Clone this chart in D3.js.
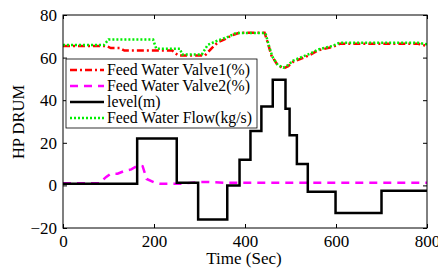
<!DOCTYPE html>
<html lang="en">
<head>
<meta charset="UTF-8">
<script src="https://cdn.jsdelivr.net/npm/d3@7"></script>
<style>
  body { margin: 0; background: #fff; }
  svg text { font-family: "Liberation Serif", "Times New Roman", serif; fill: #000; }
</style>
</head>
<body>
<div id="chart"></div>
<script>
// series as [time (s), value]
const level = [[0, 0.8], [163, 0.8], [163, 22], [250, 22], [250, 1.3], [297, 1.3], [297, -16],
  [361, -16], [361, 0], [388, 0], [388, 12], [412, 12], [412, 25.5], [436, 25.5], [436, 37],
  [461, 37], [461, 49.6], [489, 49.6], [489, 36], [498, 36], [498, 23.5], [514, 23.5], [514, 10],
  [538, 10], [538, -3], [599, -3], [599, -13], [700, -13], [700, -2.5], [800, -2.5]];
const valve2 = [[0, 1], [80, 1], [95, 4], [105, 5.5], [120, 5.5], [135, 6.8], [150, 7.5], [165, 9.4],
  [175, 9], [184, 3], [200, 1.5], [213, 0.8], [260, 0.8], [300, 1.6], [320, 1.6], [360, 1.2], [800, 1.2]];
const valve1 = [[0, 65.5], [95, 65.5], [105, 64.5], [125, 64.5], [135, 63.3], [240, 63.3], [253, 61],
  [312, 61], [325, 64], [341, 67.3], [355, 68.5], [370, 70.4], [388, 71.7], [443, 71.7], [450, 67],
  [458, 61], [470, 57], [484, 54.8], [495, 56], [505, 57.9], [531, 60.2], [545, 61.5], [560, 63.4],
  [593, 65], [608, 66.5], [780, 66.5], [800, 65.5]];
const flow = [[0, 65.9], [90, 65.9], [100, 68.5], [198, 68.5], [205, 64.2], [257, 64.2], [262, 61.4],
  [305, 61.4], [318, 66], [340, 68], [360, 69.5], [380, 71.5], [445, 71.5], [452, 66], [460, 60.5],
  [472, 56.5], [484, 55.3], [495, 56.5], [505, 58.5], [531, 60.8], [545, 62], [560, 63.8],
  [593, 65.5], [608, 67], [780, 67], [800, 66.2]];
const xTicks = [0, 200, 400, 600, 800];
const yTicks = [-20, 0, 20, 40, 60, 80];
const legendNames = ["Feed Water Valve1(%)", "Feed Water Valve2(%)", "level(m)", "Feed Water Flow(kg/s)"];

const width = 438, height = 271;
const margin = {top: 15, right: 11, bottom: 43, left: 63};
const w = width - margin.left - margin.right;
const h = height - margin.top - margin.bottom;

const svg = d3.select("#chart").append("svg")
  .attr("width", width).attr("height", height);
const g = svg.append("g").attr("transform", `translate(${margin.left},${margin.top})`);

const x = d3.scaleLinear().domain([0, 800]).range([0, w]);
const y = d3.scaleLinear().domain([-20, 80]).range([h, 0]);

const styleAxis = (sel, hideText) => {
  sel.select(".domain").remove();
  sel.selectAll(".tick line").attr("stroke", "#000").attr("stroke-width", 1);
  sel.selectAll(".tick text").style("font-size", "17px");
  if (hideText) sel.selectAll(".tick text").remove();
};

g.append("g").attr("transform", `translate(0,${h})`)
  .call(d3.axisBottom(x).tickValues(xTicks).tickSizeInner(-4).tickPadding(7))
  .call(styleAxis, false);
g.append("g")
  .call(d3.axisTop(x).tickValues(xTicks).tickSizeInner(-4))
  .call(styleAxis, true);
g.append("g")
  .call(d3.axisLeft(y).tickValues(yTicks).tickSizeInner(-4).tickPadding(6))
  .call(styleAxis, false);
g.append("g").attr("transform", `translate(${w},0)`)
  .call(d3.axisRight(y).tickValues(yTicks).tickSizeInner(-4))
  .call(styleAxis, true);

const line = d3.line().x(d => x(d[0])).y(d => y(d[1]));

const series = [
  {data: valve1, color: "#ff0000", dash: "7,3,2,3", width: 2.5},
  {data: valve2, color: "#ff00ff", dash: "8,6", width: 2.5},
  {data: level, color: "#000000", dash: null, width: 2.5},
  {data: flow, color: "#00ee00", dash: "2,2", width: 2.5}
];

g.append("defs").append("clipPath").attr("id", "clip")
  .append("rect").attr("width", w).attr("height", h);

const plot = g.append("g").attr("clip-path", "url(#clip)");
plot.selectAll("path.s")
  .data(series)
  .join("path")
  .attr("class", "s")
  .attr("d", d => line(d.data))
  .attr("fill", "none")
  .attr("stroke", d => d.color)
  .attr("stroke-width", d => d.width)
  .attr("stroke-dasharray", d => d.dash);

g.append("rect").attr("width", w).attr("height", h)
  .attr("fill", "none").attr("stroke", "#000").attr("stroke-width", 1);

// legend
const lg = svg.append("g").attr("transform", "translate(66,59)");
lg.append("rect").attr("width", 191).attr("height", 69)
  .attr("fill", "#fff").attr("stroke", "#000").attr("stroke-width", 0.8);
legendNames.forEach((name, i) => {
  const s = series[i];
  const yy = 11 + i * 16;
  lg.append("line").attr("x1", 4).attr("x2", 38).attr("y1", yy).attr("y2", yy)
    .attr("stroke", s.color).attr("stroke-width", s.width).attr("stroke-dasharray", s.dash);
  lg.append("text").attr("x", 41).attr("y", yy + 5)
    .style("font-size", "15.8px").text(name);
});

svg.append("text").attr("x", 244).attr("y", 264)
  .attr("text-anchor", "middle").style("font-size", "17px").text("Time (Sec)");
svg.append("text")
  .attr("transform", `translate(24,122) rotate(-90)`)
  .attr("text-anchor", "middle").style("font-size", "16.5px").text("HP DRUM");
</script>
</body>
</html>
